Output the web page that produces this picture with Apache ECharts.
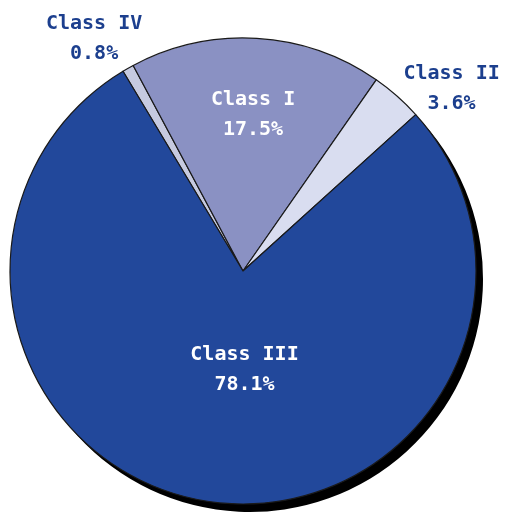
<!DOCTYPE html>
<html>
<head>
<meta charset="utf-8">
<script src="https://cdn.jsdelivr.net/npm/echarts@6/dist/echarts.min.js"></script>
<style>
  html, body { margin: 0; padding: 0; background: #fff; }
  #chart { width: 506px; height: 513px; }
</style>
</head>
<body>
<div id="chart"></div>
<script>
// slice order follows the picture, clockwise from the top-left
const classNames = ['Class IV', 'Class I', 'Class II', 'Class III'];
const classShares = [0.8, 17.5, 3.6, 78.1];
const sliceColors = ['#c6cae0', '#8a91c3', '#d9ddf0', '#22489b'];

const chart = echarts.init(document.getElementById('chart'));

// label tweaks per slice (inside labels white, outside labels blue)
const insideLabel = {
  position: 'inside',
  color: '#ffffff'
};
const outsideLabel = {
  position: 'outside',
  color: '#1c3f8e'
};
const labelNudge = [
  { dx: -24, dy: -21 },
  { dx: 3, dy: -37 },
  { dx: 43, dy: 0 },
  { dx: 19, dy: -19 }
];

const pieData = classNames.map(function (name, i) {
  const outside = classShares[i] < 5;
  return {
    name: name,
    value: classShares[i],
    itemStyle: { color: sliceColors[i] },
    label: outside ? outsideLabel : insideLabel
  };
});

const option = {
  backgroundColor: '#ffffff',
  animation: false,
  series: [
    {
      // drop shadow under the pie
      type: 'pie',
      silent: true,
      z: 1,
      center: [250, 279],
      radius: 233,
      startAngle: 121,
      label: { show: false },
      labelLine: { show: false },
      itemStyle: { color: '#000000', borderWidth: 0 },
      data: [1]
    },
    {
      type: 'pie',
      z: 2,
      center: [243, 271],
      radius: 233,
      startAngle: 121,
      clockwise: true,
      avoidLabelOverlap: false,
      itemStyle: {
        borderColor: '#1a1a1a',
        borderWidth: 1.2
      },
      label: {
        show: true,
        formatter: '{b}\n{c}%',
        fontFamily: 'DejaVu Sans Mono',
        fontWeight: 'bold',
        fontSize: 20,
        lineHeight: 30,
        align: 'center'
      },
      labelLine: { show: false, length: 10, length2: 0 },
      labelLayout: function (params) {
        const n = labelNudge[params.dataIndex];
        return { dx: n.dx, dy: n.dy, align: 'center' };
      },
      data: pieData
    }
  ]
};

chart.setOption(option);
</script>
</body>
</html>
